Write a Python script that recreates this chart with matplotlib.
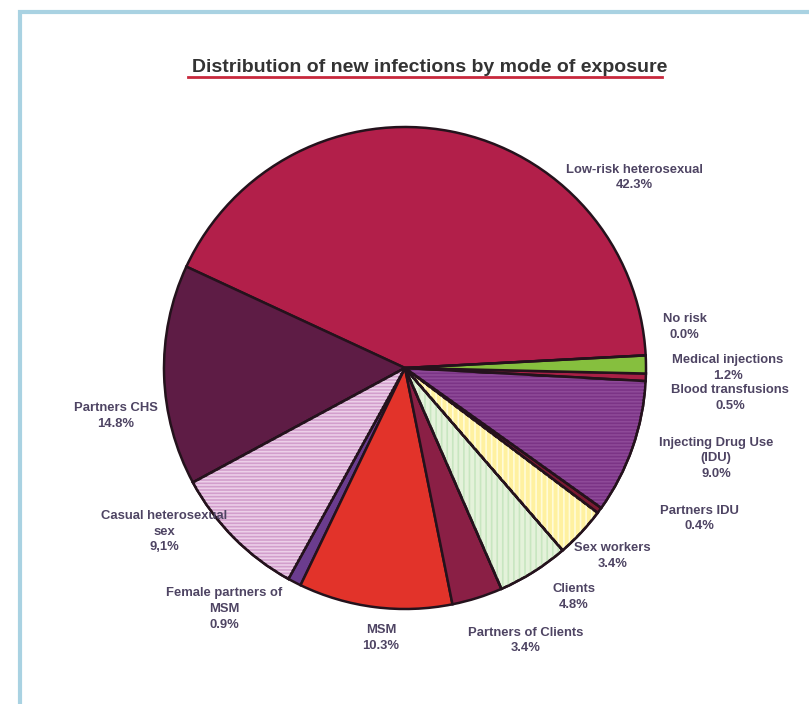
import matplotlib.pyplot as plt
from matplotlib.patches import Wedge, Rectangle
import numpy as np

# dane z wykresu (procenty)
labels = ["Low-risk heterosexual", "Partners CHS", "Casual heterosexual\nsex",
          "Female partners of\nMSM", "MSM", "Partners of Clients", "Clients",
          "Sex workers", "Partners IDU", "Injecting Drug Use\n(IDU)",
          "Blood transfusions", "Medical injections", "No risk"]
values = [42.3, 14.8, 9.1, 0.9, 10.3, 3.4, 4.8, 3.4, 0.4, 9.0, 0.5, 1.2, 0.0]
value_text = ["42.3%", "14.8%", "9,1%", "0.9%", "10.3%", "3.4%", "4.8%",
              "3.4%", "0.4%", "9.0%", "0.5%", "1.2%", "0.0%"]

colors = ["#B21F4A", "#5E1C45", "#D29ECC", "#6B3C8E", "#E2332A", "#8A1F45",
          "#E4F2DA", "#FFF1A0", "#7A1A32", "#7B3486", "#A82045", "#86BF3E",
          "#B21F4A"]
hatches = [None, None, "-----", None, None, None, "|||", "|||", None, "-----",
           None, None, None]
hatch_colors = [None, None, "#ECCFE8", None, None, None, "#C8E6C0", "#FFFBD8",
                None, "#8E4A98", None, None, None]

# pozycje etykiet (w jednostkach promienia)
label_pos = [(0.95, 0.79), (-1.2, -0.2), (-1.0, -0.68), (-0.75, -1.0),
             (-0.1, -1.12), (0.5, -1.13), (0.70, -0.95), (0.86, -0.78),
             (1.22, -0.625), (1.29, -0.375), (1.35, -0.125), (1.34, 0.0),
             (1.16, 0.17)]

fig = plt.figure(figsize=(8.09, 7.04), dpi=100)
fig.patch.set_facecolor("white")

# ramka
fig.patches.append(Rectangle((20 / 809, -0.01), 1.0, 1 - 12 / 704 + 0.01,
                             transform=fig.transFigure, fill=False,
                             edgecolor="#A9D2E2", linewidth=3))

cx, cy, r = 405 / 809, 1 - 368 / 704, 241
w, h = 2 * r / 809, 2 * r / 704
ax = fig.add_axes([cx - w / 2, cy - h / 2, w, h])

wedges, _ = ax.pie(values, colors=colors, startangle=3, counterclock=True,
                   wedgeprops=dict(edgecolor="#24121C", linewidth=1.8),
                   radius=1.0)

plt.rcParams["hatch.linewidth"] = 1.2
for wdg, hat, hc in zip(wedges, hatches, hatch_colors):
    if hat:
        over = Wedge(wdg.center, wdg.r, wdg.theta1, wdg.theta2,
                     facecolor="none", edgecolor=hc, hatch=hat, linewidth=0)
        ax.add_patch(over)
        edge = Wedge(wdg.center, wdg.r, wdg.theta1, wdg.theta2,
                     facecolor="none", edgecolor="#24121C", linewidth=1.8)
        ax.add_patch(edge)

for lab, vt, (x, y) in zip(labels, value_text, label_pos):
    ax.text(x, y, lab + "\n" + vt, ha="center", va="center",
            fontsize=9.4, fontweight="bold", color="#4E4463",
            family="Liberation Sans", linespacing=1.4, clip_on=False)

ax.set_xlim(-1, 1)
ax.set_ylim(-1, 1)
ax.set_aspect("equal")
ax.axis("off")

# tytuł z podkreśleniem
fig.text(430 / 809, 1 - 67 / 704, "Distribution of new infections by mode of exposure",
         ha="center", va="center", fontsize=14, fontweight="bold",
         color="#333333", family="Liberation Sans")
fig.add_artist(plt.Line2D([188 / 809, 662 / 809], [1 - 77 / 704, 1 - 77 / 704],
                          transform=fig.transFigure, color="#C8283C", linewidth=2))

plt.savefig("out.png", dpi=100)
